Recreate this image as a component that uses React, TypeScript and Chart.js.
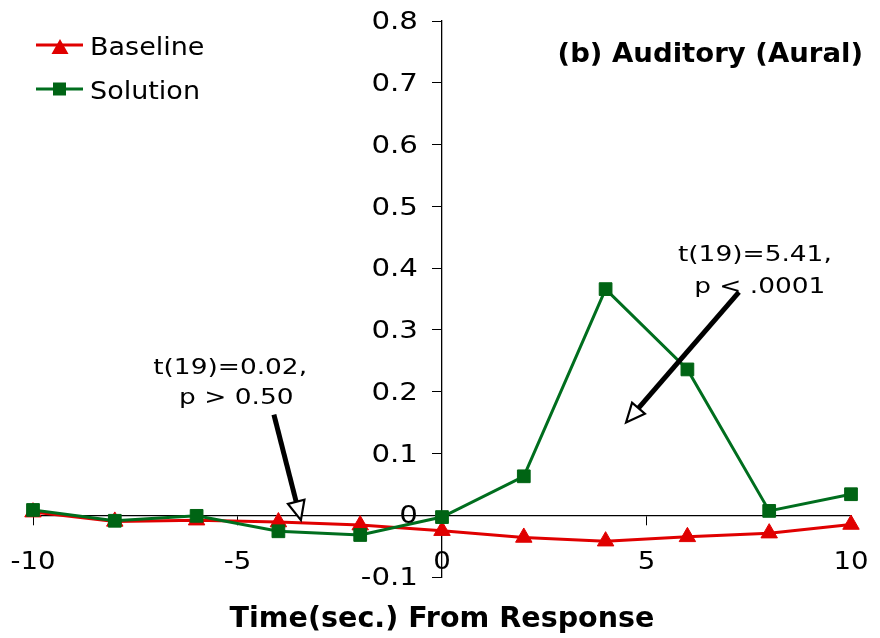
import React, { useEffect, useRef } from 'react';
import { Chart, registerables } from 'chart.js';

Chart.register(...registerables);

// ---- data ----
const timePoints = [-10, -8, -6, -4, -2, 0, 2, 4, 6, 8, 10];
const baselineValues = [0.005, -0.01, -0.008, -0.011, -0.016, -0.025, -0.036, -0.042, -0.035, -0.029, -0.015];
const solutionValues = [0.0085, -0.009, -0.001, -0.026, -0.032, -0.003, 0.063, 0.366, 0.236, 0.007, 0.034];
const xTickValues = [-10, -5, 0, 5, 10];
const yTickValues = [-0.1, 0, 0.1, 0.2, 0.3, 0.4, 0.5, 0.6, 0.7, 0.8];
const seriesLabels = ['Baseline', 'Solution'];
const chartTitle = '(b) Auditory (Aural)';
const xAxisTitle = 'Time(sec.) From Response';
const annotationLines = [
  ['t(19)=0.02,', 'p > 0.50'],
  ['t(19)=5.41,', 'p < .0001'],
];

// ---- annotation placement (data units) ----
const annotationTextAt = [
  [[-5.18, 0.238], [-5.03, 0.19]],
  [[7.65, 0.421], [7.77, 0.369]],
];
const arrowFrom = [[-4.11, 0.163], [7.26, 0.361]];
const arrowTo = [[-3.45, -0.008], [4.5, 0.15]];

const RED = '#e00000';
const GREEN_LINE = '#006e1e';
const GREEN_MARK = '#006414';
const FONT = '"DejaVu Sans", Verdana, sans-serif';

function drawArrow(ctx: CanvasRenderingContext2D, x1: number, y1: number, x2: number, y2: number) {
  const ang = Math.atan2(y2 - y1, x2 - x1);
  const headLen = 19;
  const headHalf = 8.5;
  const bx = x2 - headLen * Math.cos(ang);
  const by = y2 - headLen * Math.sin(ang);
  ctx.strokeStyle = '#000';
  ctx.lineWidth = 5;
  ctx.lineCap = 'butt';
  ctx.beginPath();
  ctx.moveTo(x1, y1);
  ctx.lineTo(bx, by);
  ctx.stroke();
  const px = -Math.sin(ang) * headHalf;
  const py = Math.cos(ang) * headHalf;
  ctx.beginPath();
  ctx.moveTo(x2, y2);
  ctx.lineTo(bx + px, by + py);
  ctx.lineTo(bx - px, by - py);
  ctx.closePath();
  ctx.fillStyle = '#fff';
  ctx.fill();
  ctx.lineWidth = 2.2;
  ctx.lineJoin = 'miter';
  ctx.stroke();
}

function wideText(ctx: CanvasRenderingContext2D, text: string, x: number, y: number, sx: number) {
  ctx.save();
  ctx.translate(x, y);
  ctx.scale(sx, 1);
  ctx.fillText(text, 0, 0);
  ctx.restore();
}

const overlayPlugin = {
  id: 'overlay',
  afterDatasetsDraw(chart: any) {
    const ctx: CanvasRenderingContext2D = chart.ctx;
    const xs = chart.scales.x;
    const ys = chart.scales.y;
    ctx.save();
    ctx.fillStyle = '#000';
    ctx.font = `24px ${FONT}`;
    // y tick labels, left of the axis
    const yAxisX = xs.getPixelForValue(0);
    ctx.textAlign = 'right';
    ctx.textBaseline = 'middle';
    ys.ticks.forEach((t: any) => {
      wideText(ctx, String(Math.round(t.value * 10) / 10), yAxisX - 24, ys.getPixelForValue(t.value) + 2, 1.22);
    });
    // x tick labels, below the axis
    ctx.textAlign = 'center';
    xs.ticks.forEach((t: any) => {
      wideText(ctx, String(t.value), xs.getPixelForValue(t.value), ys.getPixelForValue(0) + 48, 1.15);
    });
    ctx.restore();
  },
  afterDraw(chart: any) {
    const ctx: CanvasRenderingContext2D = chart.ctx;
    const xs = chart.scales.x;
    const ys = chart.scales.y;
    const area = chart.chartArea;
    ctx.save();

    // annotation texts
    ctx.fillStyle = '#000';
    ctx.textAlign = 'center';
    ctx.textBaseline = 'middle';
    ctx.font = `22px ${FONT}`;
    annotationLines.forEach((lines, a) => {
      lines.forEach((line, i) => {
        const [vx, vy] = annotationTextAt[a][i];
        wideText(ctx, line, xs.getPixelForValue(vx), ys.getPixelForValue(vy), 1.2);
      });
    });

    // arrows
    arrowFrom.forEach((from, i) => {
      const to = arrowTo[i];
      drawArrow(ctx, xs.getPixelForValue(from[0]), ys.getPixelForValue(from[1]), xs.getPixelForValue(to[0]), ys.getPixelForValue(to[1]));
    });

    // chart title
    ctx.fillStyle = '#000';
    ctx.font = `bold 27px ${FONT}`;
    ctx.textAlign = 'right';
    ctx.textBaseline = 'middle';
    wideText(ctx, chartTitle, area.right + 12, 55, 1.02);

    // x axis title
    ctx.font = `bold 28px ${FONT}`;
    ctx.textAlign = 'center';
    wideText(ctx, xAxisTitle, xs.getPixelForValue(0), 620, 1.02);

    // legend
    const legendY = [45, 89];
    chart.data.datasets.forEach((ds: any, i: number) => {
      const y = legendY[i];
      ctx.strokeStyle = ds.borderColor;
      ctx.lineWidth = 3;
      ctx.beginPath();
      ctx.moveTo(36, y);
      ctx.lineTo(83, y);
      ctx.stroke();
      ctx.fillStyle = ds.pointBackgroundColor;
      ctx.beginPath();
      if (ds.pointStyle === 'triangle') {
        ctx.moveTo(60, y - 6);
        ctx.lineTo(68.5, y + 9);
        ctx.lineTo(51.5, y + 9);
        ctx.closePath();
      } else {
        ctx.rect(53, y - 6.5, 13, 13);
      }
      ctx.fill();
      ctx.fillStyle = '#000';
      ctx.font = `25px ${FONT}`;
      ctx.textAlign = 'left';
      ctx.textBaseline = 'middle';
      wideText(ctx, ds.label, 90, y + 3, 1.08);
    });

    ctx.restore();
  },
};

export default function App() {
  const canvasRef = useRef<HTMLCanvasElement | null>(null);

  useEffect(() => {
    if (!canvasRef.current) return;
    const chart = new Chart(canvasRef.current, {
      type: 'line',
      data: {
        datasets: [
          {
            label: seriesLabels[0],
            data: timePoints.map((t, i) => ({ x: t, y: baselineValues[i] })),
            borderColor: RED,
            borderWidth: 3,
            pointStyle: 'triangle',
            pointRadius: 9.5,
            pointHoverRadius: 9.5,
            pointBackgroundColor: RED,
            pointBorderColor: RED,
            pointBorderWidth: 1,
            tension: 0,
            clip: false,
            order: 2,
          },
          {
            label: seriesLabels[1],
            data: timePoints.map((t, i) => ({ x: t, y: solutionValues[i] })),
            borderColor: GREEN_LINE,
            borderWidth: 3,
            pointStyle: 'rect',
            pointRadius: 9,
            pointHoverRadius: 9,
            pointBackgroundColor: GREEN_MARK,
            pointBorderColor: GREEN_MARK,
            pointBorderWidth: 1,
            tension: 0,
            clip: false,
            order: 1,
          },
        ] as any,
      },
      options: {
        animation: false,
        responsive: false,
        devicePixelRatio: 1,
        layout: { padding: { left: 33, right: 29, top: 21, bottom: 61 } },
        plugins: {
          legend: { display: false },
          title: { display: false },
          tooltip: { enabled: false },
        },
        events: [],
        scales: {
          x: {
            type: 'linear',
            min: -10,
            max: 10,
            position: { y: 0 } as any,
            afterBuildTicks: (s: any) => {
              s.ticks = xTickValues.map((v) => ({ value: v }));
            },
            afterFit: (s: any) => {
              s.height = 0;
            },
            grid: { drawOnChartArea: false, drawTicks: true, tickLength: 9, color: '#000', lineWidth: 1 },
            border: { display: true, color: '#000', width: 1.3 },
            ticks: { display: false },
          },
          y: {
            type: 'linear',
            min: -0.1,
            max: 0.8,
            position: { x: 0 } as any,
            afterBuildTicks: (s: any) => {
              s.ticks = yTickValues.map((v) => ({ value: v }));
            },
            afterFit: (s: any) => {
              s.width = 0;
            },
            grid: { drawOnChartArea: false, drawTicks: true, tickLength: 9, color: '#000', lineWidth: 1 },
            border: { display: true, color: '#000', width: 1.3 },
            ticks: { display: false },
          },
        } as any,
      },
      plugins: [overlayPlugin as any],
    });
    return () => chart.destroy();
  }, []);

  return (
    <div style={{ position: 'fixed', left: 0, top: 0, width: 880, height: 638, background: '#fff' }}>
      <canvas ref={canvasRef} width={880} height={638} />
    </div>
  );
}
